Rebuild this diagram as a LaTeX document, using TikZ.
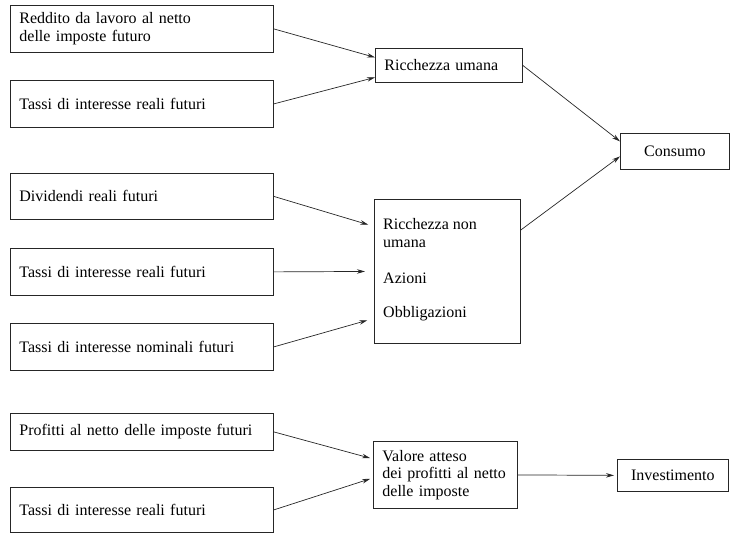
\documentclass[tikz,border=0pt]{standalone}
\usepackage{fontspec}
\setmainfont{Liberation Serif}
\usepackage{tikz}
\usetikzlibrary{arrows.meta}

\tikzset{
  box/.style={draw=black!85, line width=0.8pt, align=left, anchor=north west,
    inner xsep=9pt, font=\fontsize{16}{17.5}\selectfont},
  label/.style={anchor=west, align=left, inner sep=0pt, font=\fontsize{16}{17.5}\selectfont},
  flow/.style={draw=black!85, line width=0.7pt, -{Stealth[length=8pt,width=4.5pt]}}
}

\begin{document}
\begin{tikzpicture}[x=1pt,y=-1pt]
    \useasboundingbox (0,0) rectangle (730,534);

    % variabili attese
    \node[box, text width=245pt, minimum height=47pt] (reddito) at (10,5) {Reddito da lavoro al netto\\delle imposte futuro};
    \node[box, text width=245pt, minimum height=47pt] (tassiA) at (10,80) {Tassi di interesse reali futuri};
    \node[box, text width=245pt, minimum height=46pt] (dividendi) at (10,173) {Dividendi reali futuri};
    \node[box, text width=245pt, minimum height=47pt] (tassiB) at (10,248) {Tassi di interesse reali futuri};
    \node[box, text width=245pt, minimum height=47pt] (nominali) at (10,323) {Tassi di interesse nominali futuri};
    \node[box, text width=245pt, minimum height=37pt] (profitti) at (10,413) {Profitti al netto delle imposte futuri};
    \node[box, text width=245pt, minimum height=45pt] (tassiC) at (10,487) {Tassi di interesse reali futuri};

    % ricchezza e valore atteso
    \node[box, text width=129pt, minimum height=34pt] (umana) at (375,48) {Ricchezza umana};
    \node[box, minimum width=146pt, minimum height=144pt] (nonumana) at (374,199) {};
    \node[label] (rnu) at (383,233) {Ricchezza non\\umana};
    \node[label] (azioni) at (383,278) {Azioni};
    \node[label] (obbl) at (383,314) {Obbligazioni};
    \node[box, text width=126pt, minimum height=67pt] (valore) at (373,441) {Valore atteso\\dei profitti al netto\\delle imposte};

    % decisioni
    \node[box, align=center, text width=91pt, minimum height=36pt] (consumo) at (620,133) {Consumo};
    \node[box, align=center, text width=93pt, minimum height=32pt] (invest) at (617,459) {Investimento};

    \draw[flow] (reddito.east) -- ([yshift=8pt]umana.west);
    \draw[flow] (tassiA.east) -- ([yshift=-12pt]umana.west);
    \draw[flow, shorten >=6pt] (dividendi.east) -- ([yshift=45pt]nonumana.west);
    \draw[flow, shorten >=9pt] (tassiB.east) -- (nonumana.west);
    \draw[flow, shorten >=7pt] (nominali.east) -- ([yshift=-47pt]nonumana.west);
    \draw[flow] (umana.east) -- ([yshift=10pt]consumo.west);
    \draw[flow] ([yshift=-31pt]nonumana.north east) -- ([yshift=-5pt]consumo.west);
    \draw[flow, shorten >=3pt] (profitti.east) -- ([yshift=16pt]valore.west);
    \draw[flow, shorten >=3pt] (tassiC.east) -- ([yshift=-3pt]valore.west);
    \draw[flow, shorten >=3pt] (valore.east) -- (invest.west);
\end{tikzpicture}
\end{document}
